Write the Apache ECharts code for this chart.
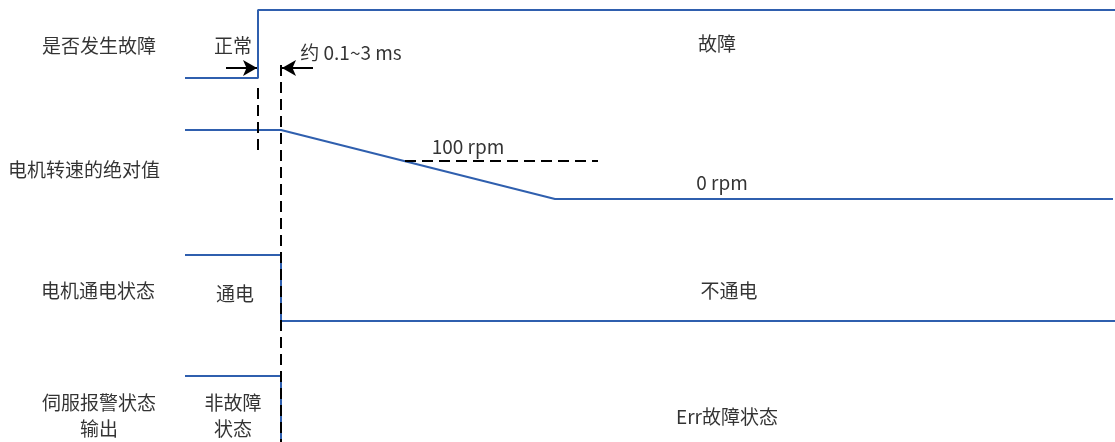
<!DOCTYPE html>
<html>
<head>
<meta charset="utf-8">
<script src="https://cdn.jsdelivr.net/npm/echarts@6/dist/echarts.min.js"></script>
<style>
  html, body { margin: 0; padding: 0; background: #fff; }
  #main { width: 1115px; height: 442px; }
</style>
</head>
<body>
<div id="main"></div>
<script>
// drawing space: x = time (0..1115), y = row level (0..442, top down)
var faultSignal = [[185, 78], [258, 78], [258, 10], [1115, 10]];
var speedSignal = [[185, 130], [281, 130], [555, 199], [1113, 199]];
var powerSignal = [[185, 255], [281, 255], [281, 321], [1115, 321]];
var alarmSignal = [[185, 376], [281, 376], [281, 460]];

var faultMark = [[258, 88], [258, 156]];
var delayMark = [[281, 65], [281, 442]];
var speed100 = [[405, 161], [598, 161]];
var arrowIn = [[226, 68], [257, 68]];
var arrowOut = [[313, 68], [282, 68]];

var rowNames = ["是否发生故障", "电机转速的绝对值", "电机通电状态", "伺服报警状态\n输出"];
var rowPos = [[99, 46], [84, 170], [98, 291], [99, 416]];

var notes = [
  [233, 46, "正常"],
  [351, 53, "约 0.1~3 ms"],
  [717, 44, "故障"],
  [468, 147, "100 rpm"],
  [722, 183, "0 rpm"],
  [235, 294, "通电"],
  [729, 291, "不通电"],
  [233, 416, "非故障\n状态"],
  [727, 417, "Err故障状态"]
];

var blue = "#2f5fae";
var font = "Noto Sans CJK SC";

function signal(data) {
  return {
    type: "line",
    data: data,
    symbol: "none",
    lineStyle: { color: blue, width: 2 },
    z: 2,
    animation: false
  };
}

function dashed(data) {
  return {
    type: "line",
    data: data,
    symbol: "none",
    lineStyle: { color: "#000", width: 2, type: [11, 6] },
    z: 3,
    animation: false
  };
}

function arrow(pts) {
  return {
    type: "line",
    data: [],
    markLine: {
      silent: true,
      animation: false,
      symbol: ["none", "arrow"],
      symbolSize: [12, 14],
      label: { show: false },
      lineStyle: { color: "#000", width: 2, type: "solid" },
      data: [[{ coord: pts[0] }, { coord: pts[1] }]]
    }
  };
}

function textSeries(items) {
  return {
    type: "scatter",
    data: items.map(function (d) { return { value: [d[0], d[1]], name: d[2] }; }),
    symbolSize: 0,
    animation: false,
    z: 5,
    label: {
      show: true,
      position: "inside",
      formatter: function (p) { return p.name; },
      color: "#000",
      fontFamily: font,
      fontSize: 19,
      lineHeight: 26,
      align: "center",
      verticalAlign: "middle"
    }
  };
}

var myChart = echarts.init(document.getElementById("main"));
var option = {
  backgroundColor: "#fff",
  grid: { left: 0, right: 0, top: 0, bottom: 0 },
  xAxis: { type: "value", min: 0, max: 1115, show: false },
  yAxis: { type: "value", min: 0, max: 442, inverse: true, show: false },
  series: [
    signal(faultSignal),
    signal(speedSignal),
    signal(powerSignal),
    signal(alarmSignal),
    dashed(faultMark),
    dashed(delayMark),
    dashed(speed100),
    arrow(arrowIn),
    arrow(arrowOut),
    textSeries(rowNames.map(function (n, i) { return [rowPos[i][0], rowPos[i][1], n]; })),
    textSeries(notes)
  ]
};
myChart.setOption(option);
</script>
</body>
</html>
